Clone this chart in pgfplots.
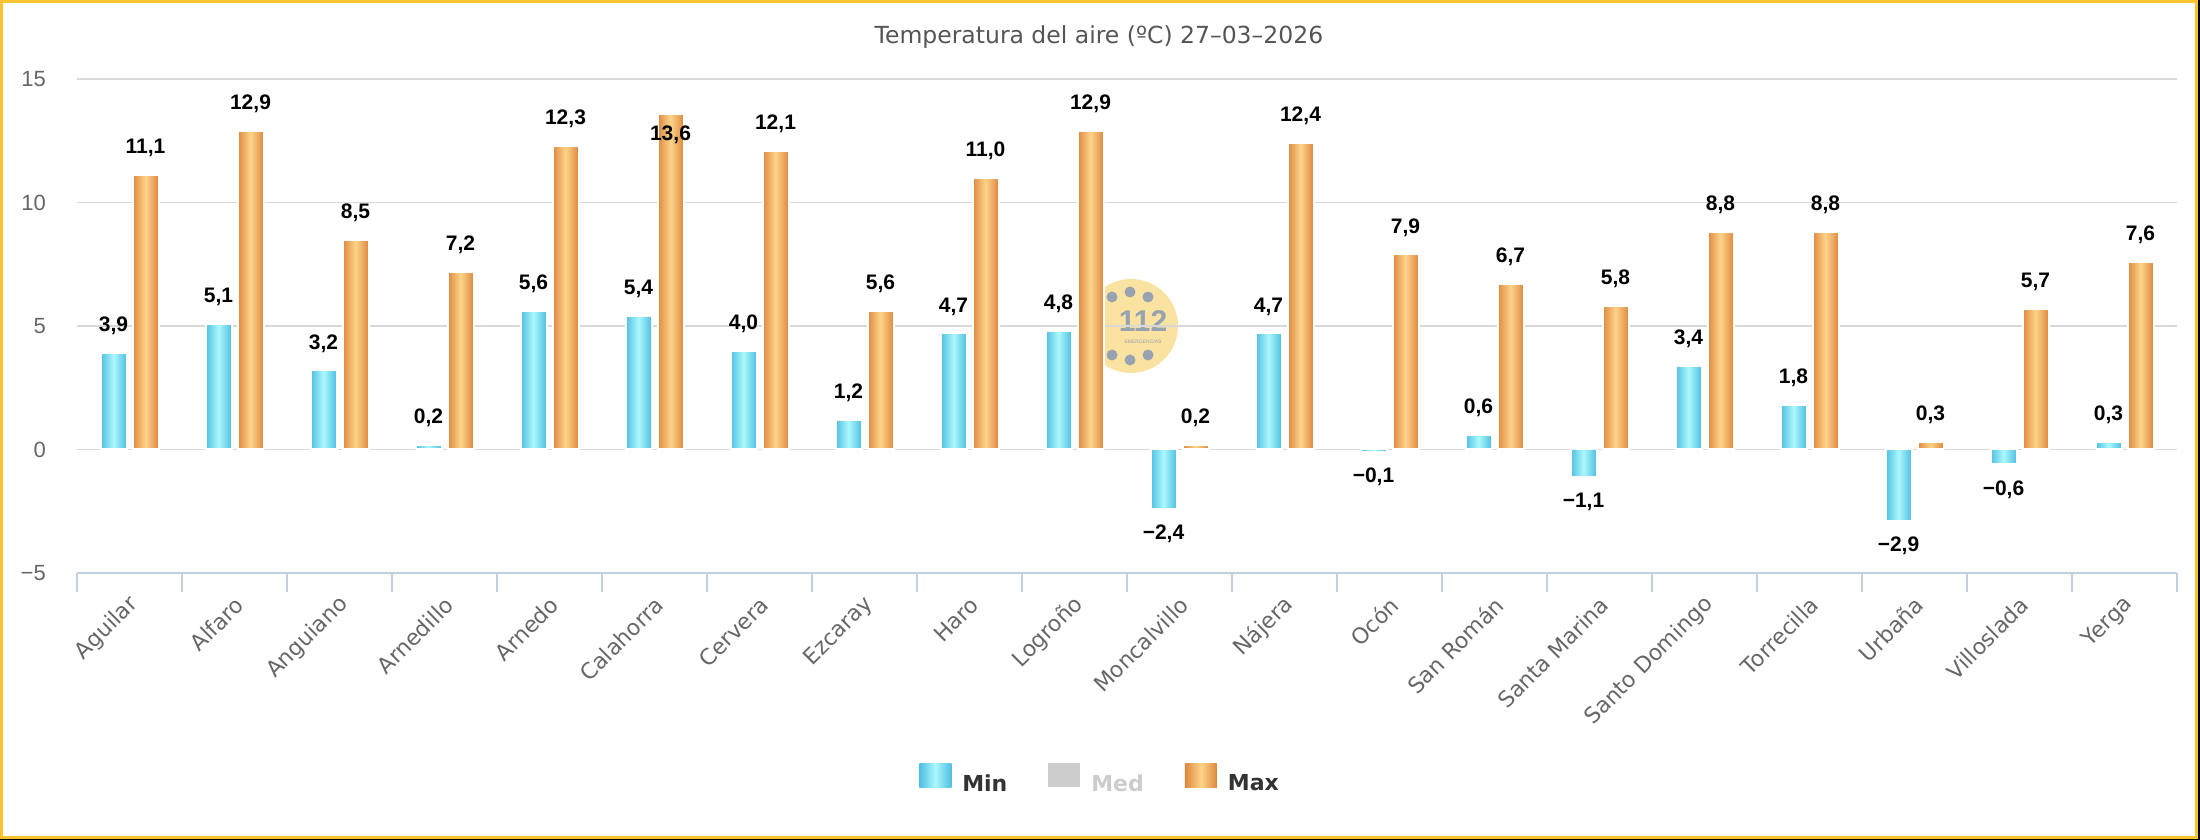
\documentclass[border=0pt]{standalone}
\usepackage{fontspec}
\setmainfont{DejaVu Sans}
\newfontfamily\lib{Liberation Sans}
\usepackage{pgfplots}
\usepackage{pgfplotstable}
\pgfplotsset{compat=1.18}
\definecolor{cE}{RGB}{78,190,226}
\definecolor{cM}{RGB}{172,248,252}
\definecolor{oE}{RGB}{222,135,62}
\definecolor{oM}{RGB}{253,212,138}
\definecolor{gridc}{RGB}{216,216,216}
\definecolor{axc}{RGB}{192,208,224}
\definecolor{framec}{RGB}{247,196,48}
\definecolor{txt}{RGB}{102,102,102}
\definecolor{ttl}{RGB}{85,85,85}
\definecolor{dark}{RGB}{51,51,51}
\definecolor{medg}{RGB}{204,204,204}
\definecolor{wmy}{RGB}{250,226,160}
\definecolor{wmg}{RGB}{152,162,176}

\newcommand\fmtval[1]{%
  \pgfmathsetmacro\tmpneg{(#1)<0}%
  \pgfmathsetmacro\tmpabs{abs(#1)}%
  \ifdim\tmpneg pt>0.5pt −\fi
  \pgfmathprintnumber[fixed,fixed zerofill,precision=1,use comma,assume math mode=true]{\tmpabs}}

\pgfplotstableread{
idx min max
0 3.9 11.1
1 5.1 12.9
2 3.2 8.5
3 0.2 7.2
4 5.6 12.3
5 5.4 13.6
6 4.0 12.1
7 1.2 5.6
8 4.7 11.0
9 4.8 12.9
10 -2.4 0.2
11 4.7 12.4
12 -0.1 7.9
13 0.6 6.7
14 -1.1 5.8
15 3.4 8.8
16 1.8 8.8
17 -2.9 0.3
18 -0.6 5.7
19 0.3 7.6
}\data

\pgfplotsset{
  legimg/.style={legend image code/.code={\path[##1,draw=none] (0pt,-4pt) rectangle (32pt,20pt);}},
  lbl/.style={
    nodes near coords={\fmtval{\rawy}},
    every node near coord/.append style={font=\lib\bfseries\fontsize{21}{21}\selectfont, text=black, anchor=center, inner sep=0pt,
      xshift=#1pt, yshift={\rawy<0 ? -25 : (\rawy>13 ? -21 : 27)}},
  },
  minbar/.style={ybar, bar width=26pt, bar shift=-16pt, draw=white, line width=2pt,
    left color=cE, right color=cE, middle color=cM, forget plot},
  maxbar/.style={ybar, bar width=26pt, bar shift=16pt, draw=white, line width=2pt,
    left color=oE, right color=oE, middle color=oM, forget plot},
}

\begin{document}
\begin{tikzpicture}[x=1pt,y=1pt]
\path[use as bounding box] (0,0) rectangle (2200,840);
% frame
\fill[black] (2197,0) rectangle (2200,840);
\fill[black] (0,0) rectangle (2200,1.5);
\draw[framec, line width=3pt] (1.5,2.5) rectangle (2196.5,838.5);
% title
\node[font=\fontsize{23.5}{23.5}\selectfont, text=ttl] at (1099,803) {Temperatura del aire (ºC) 27–03–2026};
% watermark logo
\fill[wmy] (1131,514) circle (47);
\foreach \p in {(1112,543),(1130,548),(1148,543),(1112,485),(1130,480),(1148,485)} \fill[wmg] \p circle (5.5);
\node[font=\lib\bfseries\fontsize{30}{30}\selectfont, text=wmg, inner sep=0pt] at (1143,519) {112};
\node[font=\lib\fontsize{5}{5}\selectfont, text=wmg, inner sep=0pt] at (1143,498) {EMERGENCIAS};

\begin{axis}[
  at={(77pt,267pt)}, anchor=south west,
  width=2100pt, height=494pt, scale only axis,
  xmin=-0.5, xmax=19.5, ymin=-5, ymax=15,
  clip=false,
  axis lines*=left,
  y axis line style={draw=none},
  x axis line style={color=axc, line width=2pt},
  xtick={0,...,19},
  xticklabels={Aguilar,Alfaro,Anguiano,Arnedillo,Arnedo,Calahorra,Cervera,Ezcaray,Haro,Logroño,Moncalvillo,Nájera,Ocón,San Román,Santa Marina,Santo Domingo,Torrecilla,Urbaña,Villoslada,Yerga},
  minor xtick={-0.5,0.5,...,19.5},
  major tick length=0pt,
  minor tick length=19pt,
  tick align=outside,
  minor x tick style={color=axc, line width=1.5pt},
  ytick={-5,0,5,10,15},
  yticklabels={−5,0,5,10,15},
  ytick style={draw=none},
  ymajorgrids,
  major grid style={color=gridc, line width=1.5pt},
  xticklabel style={font=\fontsize{22}{22}\selectfont, text=txt, inner sep=0pt, xshift=5pt, yshift=-28pt, rotate=45, anchor=east},
  yticklabel style={font=\lib\fontsize{22}{22}\selectfont, text=txt, inner sep=0pt, xshift=-31pt, anchor=east},
  legend style={at={(axis description cs:0.4867,-0.415)}, anchor=center, draw=none, fill=none,
    legend columns=3, font=\bfseries\fontsize{22}{22}\selectfont, text=dark,
    nodes={inner sep=0pt},
    /tikz/every odd column/.append style={column sep=11pt},
    /tikz/every even column/.append style={column sep=41pt}},
]
\pgfplotsinvokeforeach{0,...,19}{
  \addplot[minbar, x filter/.expression={x==#1 ? x : nan},
    visualization depends on={\thisrow{min} \as \rawy}, lbl=-16]
    table[x=idx, y=min] {\data};
  \addplot[maxbar, x filter/.expression={x==#1 ? x : nan},
    visualization depends on={\thisrow{max} \as \rawy}, lbl=16]
    table[x=idx, y=max] {\data};
}
\addlegendimage{legimg, left color=cE, right color=cE, middle color=cM}
\addlegendentry{Min}
\addlegendimage{legimg, fill=medg}
\addlegendentry{\textcolor{medg}{Med}}
\addlegendimage{legimg, left color=oE, right color=oE, middle color=oM}
\addlegendentry{Max}
\end{axis}
\end{tikzpicture}
\end{document}
